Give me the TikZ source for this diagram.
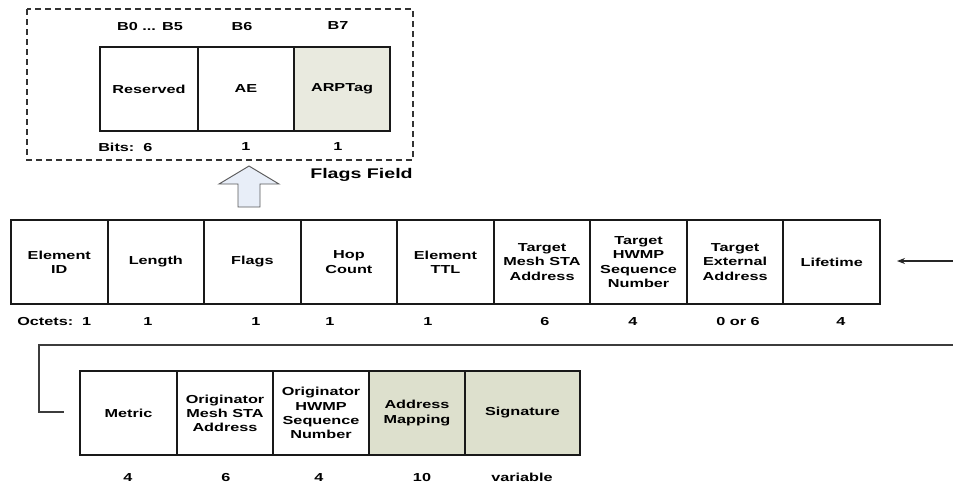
\documentclass[tikz,border=0pt]{standalone}
\usepackage{fontspec}
\setmainfont{Liberation Sans}[FakeStretch=1.4]
\usetikzlibrary{arrows.meta}

\definecolor{edge}{RGB}{25,25,25}
\definecolor{wire}{RGB}{60,60,60}
\definecolor{tagfill}{RGB}{233,234,223}
\definecolor{mapfill}{RGB}{221,224,205}
\definecolor{upfill}{RGB}{232,238,248}
\definecolor{upedge}{RGB}{90,90,90}

\newcommand\cellfont{\fontsize{8.7pt}{10.6pt}\selectfont\bfseries}
\newcommand\capfont{\fontsize{10.5pt}{12pt}\selectfont\bfseries}

\tikzset{
  cell/.style={draw=edge, line width=1.5pt, rectangle, anchor=north west,
    inner sep=0pt, minimum height=63pt, minimum width=72.4pt,
    align=center, font=\cellfont},
  num/.style={inner sep=0pt, font=\cellfont},
  wireline/.style={draw=wire, line width=1.2pt},
  frame/.style={draw=black!80, line width=0.8pt, dash pattern=on 4.5pt off 3pt},
  uparrow/.style={draw=upedge, line width=0.7pt, fill=upfill},
  inarrow/.style={draw=black!85, line width=0.8pt, -{Stealth[length=6pt,width=4.5pt]}}
}

\begin{document}
\begin{tikzpicture}[x=0.75pt,y=-0.75pt]
\useasboundingbox (0,0) rectangle (953,487);

% ---- Flags field (bit layout) ----
\draw[frame] (27,9) rectangle (413,160);
\node[cell, minimum width=73.5pt] (res) at (99,46) {Reserved};
\node[cell, minimum width=72pt] (ae) at (197,46) {AE};
\node[cell, minimum width=72pt, fill=tagfill] (arp) at (293,46) {ARPTag};
\node[num] (b05) at (150,26) {B0 ... B5};
\node[num] (b6) at (242,26) {B6};
\node[num] (b7) at (338,26) {B7};
\node[num, anchor=west] (bits) at (98,147) {Bits:\ \ 6};
\node[num] (bae) at (246,147) {1};
\node[num] (barp) at (338,147) {1};
\node[inner sep=0pt, font=\capfont] (ffield) at (361.5,175) {Flags Field};

% block arrow pointing up to the flags field
\draw[uparrow] (249,166) -- (279,184) -- (260,184) -- (260,207)
  -- (238,207) -- (238,184) -- (219,184) -- cycle;

% ---- Element fields, first part ----
\node[cell] (eid)   at (10,219)     {Element\\ID};
\node[cell] (len)   at (106.56,219) {Length};
\node[cell] (flg)   at (203.11,219) {Flags};
\node[cell] (hop)   at (299.67,219) {Hop\\Count};
\node[cell] (ttl)   at (396.22,219) {Element\\TTL};
\node[cell] (tmesh) at (492.78,219) {Target\\Mesh STA\\Address};
\node[cell] (tseq)  at (589.33,219) {Target\\HWMP\\Sequence\\Number};
\node[cell] (text)  at (685.89,219) {Target\\External\\Address};
\node[cell] (life)  at (782.44,219) {Lifetime};

\node[num, anchor=west] (o1) at (17,321) {Octets:\ \ 1};
\node[num] (o2) at (148,321) {1};
\node[num] (o3) at (256,321) {1};
\node[num] (o4) at (330,321) {1};
\node[num] (o5) at (428,321) {1};
\node[num] (o6) at (545,321) {6};
\node[num] (o7) at (633,321) {4};
\node[num] (o8) at (738,321) {0 or 6};
\node[num] (o9) at (841,321) {4};

% incoming arrow on the right
\coordinate (rin) at (953,261);
\coordinate (rtip) at (897,261);
\draw[inarrow] (rin) -- (rtip);

% ---- Element fields, continued ----
\node[cell, minimum width=72.75pt] (metric) at (79,370) {Metric};
\node[cell, minimum width=72pt] (omesh) at (176,370) {Originator\\Mesh STA\\Address};
\node[cell, minimum width=72pt] (oseq) at (272,370) {Originator\\HWMP\\Sequence\\Number};
\node[cell, minimum width=72pt, fill=mapfill] (amap) at (368,370) {Address\\Mapping};
\node[cell, minimum width=86.25pt, fill=mapfill] (sig) at (464,370) {Signature};

\node[num] (l1) at (128,477) {4};
\node[num] (l2) at (226,477) {6};
\node[num] (l3) at (319,477) {4};
\node[num] (l4) at (422,477) {10};
\node[num] (l5) at (522,477) {variable};

% wrap-around line joining the two rows
\coordinate (wrapin) at (953,345);
\coordinate (wrapcorner) at (39,345);
\coordinate (wrapend) at (64,412);
\draw[wireline] (wrapin) -- (wrapcorner) |- (wrapend);
\end{tikzpicture}
\end{document}
